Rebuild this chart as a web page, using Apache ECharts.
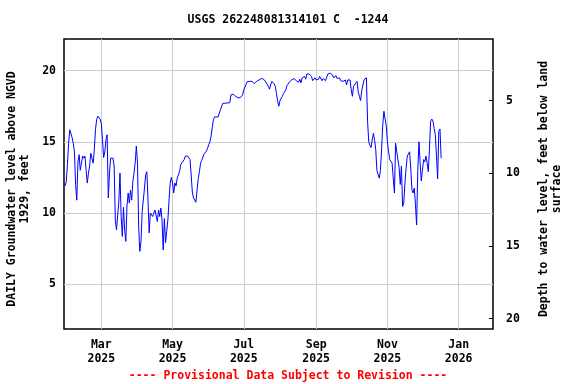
<!DOCTYPE html>
<html>
<head>
<meta charset="utf-8">
<script src="https://cdn.jsdelivr.net/npm/echarts@6/dist/echarts.min.js"></script>
<style>
html,body{margin:0;padding:0;background:#fff;}
#chart{width:576px;height:384px;}
</style>
</head>
<body>
<div id="chart"></div>
<script>
// Days since 2025-01-01 (UTC) for each daily reading
const days = [28,29,30,31,32,34,35,36,37,38,39,40,41,42,43,44,45,46,47,48,49,50,51,52,53,54,55,56,57,58,59,60,61,62,63,64,65,66,67,68,69,70,71,72,73,74,75,76,77,78,79,80,81,82,83,84,85,86,87,88,89,90,91,92,93,94,95,96,97,98,99,100,101,102,103,104,105,106,107,108,109,110,111,112,113,114,115,116,117,118,119,120,121,122,123,124,125,126,127,128,130,131,133,134,135,136,137,138,139,140,141,142,143,144,145,147,149,150,151,152,153,154,155,156,159,161,163,164,169,170,172,174,176,178,180,181,183,184,188,190,192,193,196,198,200,202,203,204,205,207,208,209,210,211,212,214,215,217,218,220,222,224,226,228,229,230,231,233,234,235,237,239,240,242,243,245,246,248,249,251,253,255,257,258,260,261,263,264,266,268,269,270,272,273,274,275,276,278,279,280,281,282,284,285,286,287,288,289,290,291,292,293,294,295,296,297,298,299,300,301,302,303,304,305,306,307,308,309,310,311,312,313,314,315,316,317,318,319,320,321,323,324,325,326,327,328,329,330,331,332,333,334,335,336,337,338,339,340,341,342,343,344,345,346,347,348,349,350];
// Daily groundwater level above NGVD 1929, feet
const levels = [11.9,12.2,13.4,14.9,15.85,15.3,14.9,14.3,12.0,10.9,13.6,14.1,13.0,13.5,14.0,13.85,14.0,13.0,12.1,12.8,13.3,14.2,13.85,13.5,14.4,15.85,16.55,16.8,16.8,16.6,16.3,15.15,13.9,14.3,15.15,15.5,11.05,12.8,13.85,13.9,13.85,13.3,9.5,8.8,8.9,10.8,12.8,9.75,8.35,10.4,8.8,8.0,10.5,11.4,10.7,11.6,10.9,12.2,12.8,13.5,14.7,13.5,9.0,7.3,8.0,10.1,10.1,11.75,12.7,12.9,10.9,8.6,10.0,10.1,9.75,10.0,10.2,10.1,9.4,10.2,9.75,10.35,9.5,7.4,9.6,7.9,8.7,9.5,10.9,12.1,12.5,12.1,11.4,12.1,11.9,12.45,12.45,12.9,13.4,13.5,13.75,14.0,14.0,13.9,13.75,12.6,11.4,11.05,11.05,10.75,11.6,12.4,12.9,13.5,13.7,14.15,14.35,14.55,14.8,15.0,15.4,16.0,16.55,16.75,16.75,17.25,17.7,17.75,17.75,18.3,18.35,18.2,18.1,18.1,18.3,18.65,19.05,19.25,19.25,19.1,19.25,19.35,19.45,19.4,19.2,18.9,18.7,19.0,19.25,19.1,18.9,18.4,17.85,17.5,17.9,18.2,18.4,18.65,18.95,19.2,19.35,19.45,19.3,19.2,19.4,19.15,19.5,19.6,19.4,19.77,19.77,19.6,19.3,19.5,19.35,19.4,19.6,19.3,19.45,19.3,19.77,19.83,19.7,19.5,19.65,19.44,19.5,19.3,19.25,19.35,19.0,19.35,19.35,18.65,18.2,18.9,18.9,19.25,18.5,18.2,17.9,18.6,19.37,19.5,19.5,16.45,15.0,14.75,14.6,15.15,15.6,15.1,14.45,13.0,12.7,12.45,13.0,14.45,16.2,17.15,17.25,16.1,15.0,14.3,13.75,13.85,13.5,12.45,11.4,14.9,14.3,14.35,13.2,12.0,13.3,10.45,10.7,12.1,13.15,14.0,14.3,13.1,11.6,11.4,11.75,10.6,9.15,13.0,15.0,13.5,12.25,13.0,13.75,13.6,14.0,13.5,12.9,14.5,16.45,16.6,16.45,15.95,15.5,14.0,12.4,15.75,15.9,13.85];
// Tick labels
const leftTicks = [5, 10, 15, 20];
const rightTicks = [5, 10, 15, 20];
const monthTicks = ['2025-03-01','2025-05-01','2025-07-01','2025-09-01','2025-11-01','2026-01-01'];
const monthNames = ['Jan','Feb','Mar','Apr','May','Jun','Jul','Aug','Sep','Oct','Nov','Dec'];
const titleText = 'USGS 262248081314101 C  -1244';
const footerText = '---- Provisional Data Subject to Revision ----';
const leftName = 'DAILY Groundwater level above NGVD\n1929, feet';
const rightName = 'Depth to water level, feet below land\nsurface';

const DAY = 86400000;
const base = Date.UTC(2025, 0, 1);
const seriesData = days.map((d, i) => [base + d * DAY, levels[i]]);
const monthTs = monthTicks.map(s => Date.parse(s + 'T00:00:00Z'));

const FONT = '"DejaVu Sans Mono", monospace';
const FS = 11.5;

const chart = echarts.init(document.getElementById('chart'), null, {renderer: 'canvas'});
chart.setOption({
  animation: false,
  backgroundColor: '#fff',
  title: [
    {text: titleText, left: 'center', top: 9,
     textStyle: {fontFamily: FONT, fontSize: FS, fontWeight: 'bold', color: '#000'}},
    {text: footerText, left: 'center', top: 365,
     textStyle: {fontFamily: FONT, fontSize: FS, fontWeight: 'bold', color: '#ff0000'}}
  ],
  grid: {left: 64, right: 83, top: 39, bottom: 55, show: true, borderColor: '#000', borderWidth: 1.5,
         backgroundColor: 'transparent', containLabel: false, outerBoundsMode: 'none'},
  xAxis: {
    type: 'value',
    min: base + 27.06 * DAY,
    max: base + 394.4 * DAY,
    axisLine: {show: false},
    axisTick: {show: false, customValues: monthTs},
    splitLine: {show: true, lineStyle: {color: '#cccccc', width: 1}},
    axisLabel: {
      customValues: monthTs,
      margin: 9,
      fontFamily: FONT, fontSize: FS, fontWeight: 'bold', color: '#000', lineHeight: 14,
      formatter: v => { const d = new Date(v); return monthNames[d.getUTCMonth()] + '\n' + d.getUTCFullYear(); }
    }
  },
  yAxis: [
    {
      type: 'value', position: 'left',
      min: 1.84, max: 22.23,
      name: leftName, nameLocation: 'middle', nameRotate: 90, nameGap: 32,
      nameTextStyle: {fontFamily: FONT, fontSize: FS, fontWeight: 'bold', color: '#000', lineHeight: 13, align: 'center', padding: [0, 10, 0, 0]},
      axisLine: {show: false},
      axisTick: {show: false, customValues: leftTicks},
      splitLine: {show: true, lineStyle: {color: '#cccccc', width: 1}},
      axisLabel: {customValues: leftTicks, margin: 8, fontFamily: FONT, fontSize: FS, fontWeight: 'bold', color: '#000'}
    },
    {
      type: 'value', position: 'right', inverse: true,
      min: 0.75, max: 20.71,
      name: rightName, nameLocation: 'middle', nameRotate: 90, nameGap: 45,
      nameTextStyle: {fontFamily: FONT, fontSize: FS, fontWeight: 'bold', color: '#000', lineHeight: 13, align: 'center', padding: [0, 10, 0, 0]},
      axisLine: {show: false},
      axisTick: {show: true, inside: true, length: 4, customValues: rightTicks, lineStyle: {color: '#000', width: 1}},
      splitLine: {show: false},
      axisLabel: {customValues: rightTicks, margin: 13, fontFamily: FONT, fontSize: FS, fontWeight: 'bold', color: '#000'}
    }
  ],
  series: [{
    type: 'line',
    yAxisIndex: 0,
    data: seriesData,
    showSymbol: false,
    symbol: 'none',
    lineStyle: {color: '#0000ff', width: 1},
    itemStyle: {color: '#0000ff'}
  }]
});
</script>
</body>
</html>
